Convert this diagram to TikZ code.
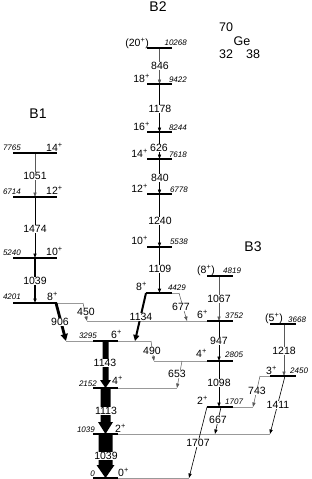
\documentclass[tikz,border=0pt]{standalone}
\usepackage{fontspec}
\setmainfont{Liberation Sans}
\usetikzlibrary{arrows.meta,calc}
\newcommand{\spp}[1]{#1\textsuperscript{+}}
\begin{document}
\begin{tikzpicture}[x=1pt,y=-1pt,
  lev/.style={line width=1.2pt},
  ext/.style={draw=black!40,line width=0.45pt},
  tipa/.style={-{Triangle[length=4.5pt,width=3.2pt]}},
  weak/.style={tipa,draw=black!65,line width=0.5pt},
  thin/.style={tipa,draw=black,line width=0.6pt},
  med/.style={tipa,draw=black,line width=0.9pt},
  strong/.style={tipa,draw=black,line width=1.2pt},
  en/.style={font=\fontsize{8}{9}\selectfont\itshape,inner sep=0pt},
  sp/.style={font=\fontsize{10.5}{12}\selectfont,inner sep=0pt},
  gl/.style={font=\fontsize{10.5}{12}\selectfont,fill=white,inner sep=0.6pt},
  ttl/.style={font=\fontsize{14}{16}\selectfont,inner sep=0pt},
  nuc/.style={font=\fontsize{12.5}{14}\selectfont,inner sep=0pt}]
\useasboundingbox (0,0) rectangle (312,479);

% ---------- level coordinates ----------
% B1
\coordinate (a14l) at (13,153); \coordinate (a14r) at (57,153); \coordinate (a14) at (35,153);
\coordinate (a12l) at (13,197); \coordinate (a12r) at (57,197); \coordinate (a12) at (35,197);
\coordinate (a10l) at (13,258); \coordinate (a10r) at (57,258); \coordinate (a10) at (35,258);
\coordinate (a8l) at (13,303); \coordinate (a8r) at (57,303); \coordinate (a8) at (35,303);
% B2
\coordinate (b20l) at (147,48); \coordinate (b20r) at (172,48); \coordinate (b20) at (159.5,48);
\coordinate (b18l) at (147,84); \coordinate (b18r) at (172,84); \coordinate (b18) at (159.5,84);
\coordinate (b16l) at (147,132); \coordinate (b16r) at (172,132); \coordinate (b16) at (159.5,132);
\coordinate (b14l) at (147,159); \coordinate (b14r) at (172,159); \coordinate (b14) at (159.5,159);
\coordinate (b12l) at (147,194); \coordinate (b12r) at (172,194); \coordinate (b12) at (159.5,194);
\coordinate (b10l) at (147,247); \coordinate (b10r) at (172,247); \coordinate (b10) at (159.5,247);
\coordinate (b8l) at (146,293); \coordinate (b8r) at (172,293); \coordinate (b8) at (159.5,293);
% B3
\coordinate (c8l) at (207,276); \coordinate (c8r) at (233,276); \coordinate (c8) at (219,276);
\coordinate (c6l) at (207,321); \coordinate (c6r) at (233,321); \coordinate (c6) at (219,321);
\coordinate (c4l) at (207,361); \coordinate (c4r) at (233,361); \coordinate (c4) at (219,361);
\coordinate (c2l) at (207,407); \coordinate (c2r) at (233,407); \coordinate (c2) at (219,407);
% (5+) band
\coordinate (d5l) at (270,324); \coordinate (d5r) at (296,324); \coordinate (d5) at (284,324);
\coordinate (d3l) at (270,376); \coordinate (d3r) at (296,376); \coordinate (d3) at (284,376);
% ground band
\coordinate (g6l) at (93,341); \coordinate (g6r) at (118,341); \coordinate (g6) at (105.5,341);
\coordinate (g4l) at (93,388); \coordinate (g4r) at (118,388); \coordinate (g4) at (105.5,388);
\coordinate (g2l) at (93,434); \coordinate (g2r) at (118,434); \coordinate (g2) at (105.5,434);
\coordinate (g0l) at (93,478); \coordinate (g0r) at (118,478); \coordinate (g0) at (105.5,478);

% ---------- transition end points ----------
\coordinate (x450a) at (83,303); \coordinate (x450b) at (87,321);
\coordinate (x677a) at (179,293); \coordinate (x677b) at (187,321);
\coordinate (x906a) at (56,303); \coordinate (x906b) at (66,341);
\coordinate (x1134b) at (135,341);
\coordinate (x490a) at (151,341); \coordinate (x490b) at (154,361);
\coordinate (x653a) at (182,361); \coordinate (x653b) at (177,388);
\coordinate (x743a) at (260,376); \coordinate (x743b) at (253,407);
\coordinate (x667a) at (221,407); \coordinate (x667b) at (215,434);
\coordinate (x1411a) at (285,376); \coordinate (x1411b) at (270,434);
\coordinate (x1707b) at (189,478);

% ---------- level extensions ----------
\draw[ext] (a8r) -- (x450a);
\draw[ext] (x450b) -- (c6l);
\draw[ext] (b8r) -- (x677a);
\draw[ext] (x906b) -- (g6l);
\draw[ext] (g6r) -- (x490a);
\draw[ext] (x490b) -- (c4l);
\draw[ext] (g4r) -- (x653b);
\draw[ext] (x743a) -- (d3l);
\draw[ext] (c2r) -- (x743b);
\draw[ext] (g2r) -- (x1411b);
\draw[ext] (g0r) -- (x1707b);

% ---------- transitions ----------
\draw[weak] (a14) -- (a12);
\draw[med] (a12) -- (a10);
\draw[strong] (a10) -- (a8);
\draw[weak] (b20) -- (b18);
\draw[thin] (b18) -- (b16);
\draw[thin] (b16) -- (b14);
\draw[thin] (b14) -- (b12);
\draw[med] (b12) -- (b10);
\draw[strong] (b10) -- (b8);
\draw[weak] (c8) -- (c6);
\draw[med] (c6) -- (c4);
\draw[med] (c4) -- (c2);
\draw[weak] (d5) -- (d3);
\draw[weak] (x450a) -- (x450b);
\draw[weak] (x677a) -- (x677b);
\draw[weak] (x490a) -- (x490b);
\draw[weak] (x653a) -- (x653b);
\draw[weak] (x743a) -- (x743b);
\draw[thin] (x667a) -- (x667b);
\draw[thin] (x1411a) -- (x1411b);
\draw[thin] (c2l) -- (x1707b);
\draw[line width=2.8pt,-{Triangle[length=7pt,width=7pt]}] (x906a) -- (x906b);
\draw[line width=2pt,-{Triangle[length=6pt,width=6pt]}] (b8l) -- (x1134b);
% ground-band cascade (wide arrows)
\fill ($(g6)+(-3,0)$) -- ($(g4)+(-3,-8)$) -- ($(g4)+(-5.5,-8)$) -- (g4)
  -- ($(g4)+(5.5,-8)$) -- ($(g4)+(3,-8)$) -- ($(g6)+(3,0)$) -- cycle;
\fill ($(g4)+(-5,0)$) -- ($(g2)+(-5,-12)$) -- ($(g2)+(-7.5,-12)$) -- (g2)
  -- ($(g2)+(7.5,-12)$) -- ($(g2)+(5,-12)$) -- ($(g4)+(5,0)$) -- cycle;
\fill ($(g2)+(-7,0)$) -- ($(g0)+(-7,-13)$) -- ($(g0)+(-9,-13)$) -- (g0)
  -- ($(g0)+(9,-13)$) -- ($(g0)+(7,-13)$) -- ($(g2)+(7,0)$) -- cycle;

% ---------- levels ----------
\foreach \n in {a14,a12,a10,a8,b20,b18,b16,b14,b12,b10,b8,c8,c6,c4,c2,d5,d3,g6,g4,g2,g0}
  \draw[lev] (\n l) -- (\n r);

% ---------- titles ----------
\node[ttl] (tB1) at (38,114) {B1};
\node[ttl] (tB2) at (158,7) {B2};
\node[ttl] (tB3) at (253,247) {B3};
\node[nuc] (tA) at (226,27) {70};
\node[nuc] (tGe) at (242,41) {Ge};
\node[nuc] (tZ) at (226,54) {32};
\node[nuc] (tN) at (253,54) {38};

% ---------- B1 labels ----------
\node[en,anchor=base east] (e7765) at (21,150) {7765};
\node[en,anchor=base east] (e6714) at (21,194) {6714};
\node[en,anchor=base east] (e5240) at (21,255) {5240};
\node[en,anchor=base east] (e4201) at (21,299) {4201};
\node[sp,anchor=base west] (s14a) at (46,151) {\spp{14}};
\node[sp,anchor=base west] (s12a) at (46,194) {\spp{12}};
\node[sp,anchor=base west] (s10a) at (46,255) {\spp{10}};
\node[sp,anchor=base west] (s8a) at (47,300) {\spp{8}};
\node[gl] (g1051) at (35,176) {1051};
\node[gl] (g1474) at (35,229) {1474};
\node[gl] (g1039a) at (35,281) {1039};

% ---------- B2 labels ----------
\node[en,anchor=base east] (e10268) at (187,45) {10268};
\node[en,anchor=base east] (e9422) at (187,82) {9422};
\node[en,anchor=base east] (e8244) at (187,130) {8244};
\node[en,anchor=base east] (e7618) at (187,157) {7618};
\node[en,anchor=base east] (e6778) at (188,192) {6778};
\node[en,anchor=base east] (e5538) at (188,244) {5538};
\node[en,anchor=base east] (e4429) at (186,290) {4429};
\node[sp,anchor=base east] (s20b) at (149,46) {(\spp{20})};
\node[sp,anchor=base east] (s18b) at (150,82) {\spp{18}};
\node[sp,anchor=base east] (s16b) at (150,130) {\spp{16}};
\node[sp,anchor=base east] (s14b) at (148,157) {\spp{14}};
\node[sp,anchor=base east] (s12b) at (148,192) {\spp{12}};
\node[sp,anchor=base east] (s10b) at (148,244) {\spp{10}};
\node[sp,anchor=base east] (s8b) at (147,290) {\spp{8}};
\node[gl] (g846) at (160,66) {846};
\node[gl] (g1178) at (160,109) {1178};
\node[gl] (g626) at (159,148) {626};
\node[gl] (g840) at (160,178) {840};
\node[gl] (g1240) at (160,221) {1240};
\node[gl] (g1109) at (160,269) {1109};

% ---------- B3 labels ----------
\node[en,anchor=base west] (e4819) at (223,273) {4819};
\node[en,anchor=base west] (e3752) at (225,318) {3752};
\node[en,anchor=base west] (e2805) at (225,357) {2805};
\node[en,anchor=base west] (e1707) at (225,404) {1707};
\node[sp,anchor=base east] (s8c) at (215,273) {(\spp{8})};
\node[sp,anchor=base east] (s6c) at (208,318) {\spp{6}};
\node[sp,anchor=base east] (s4c) at (207,357) {\spp{4}};
\node[sp,anchor=base east] (s2c) at (208,404) {\spp{2}};
\node[gl] (g1067) at (219,299) {1067};
\node[gl] (g947) at (219,341) {947};
\node[gl] (g1098) at (219,383) {1098};

% ---------- (5+) band labels ----------
\node[en,anchor=base west] (e3668) at (288,322) {3668};
\node[en,anchor=base west] (e2450) at (290,373) {2450};
\node[sp,anchor=base east] (s5d) at (283,321) {(\spp{5})};
\node[sp,anchor=base east] (s3d) at (277,374) {\spp{3}};
\node[gl] (g1218) at (284,351) {1218};

% ---------- ground band labels ----------
\node[en,anchor=base east] (e3295) at (97,338) {3295};
\node[en,anchor=base east] (e2152) at (97,386) {2152};
\node[en,anchor=base east] (e1039) at (95,432) {1039};
\node[en,anchor=base east] (e0) at (95,476) {0};
\node[sp,anchor=base west] (s6g) at (111,338) {\spp{6}};
\node[sp,anchor=base west] (s4g) at (112,384) {\spp{4}};
\node[sp,anchor=base west] (s2g) at (115,432) {\spp{2}};
\node[sp,anchor=base west] (s0g) at (118,476) {\spp{0}};
\node[gl] (g1143) at (105,363) {1143};
\node[gl] (g1113) at (106,411) {1113};
\node[gl] (g1039) at (106,456) {1039};

% ---------- inter-band labels ----------
\node[gl] (g450) at (86,312) {450};
\node[gl] (g906) at (60,322) {906};
\node[gl] (g1134) at (141,317) {1134};
\node[gl] (g677) at (181,307) {677};
\node[gl] (g490) at (152,351) {490};
\node[gl] (g653) at (177,374) {653};
\node[gl] (g743) at (257,391) {743};
\node[gl] (g667) at (218,420) {667};
\node[gl] (g1411) at (278,405) {1411};
\node[gl] (g1707) at (198,443) {1707};
\end{tikzpicture}
\end{document}
